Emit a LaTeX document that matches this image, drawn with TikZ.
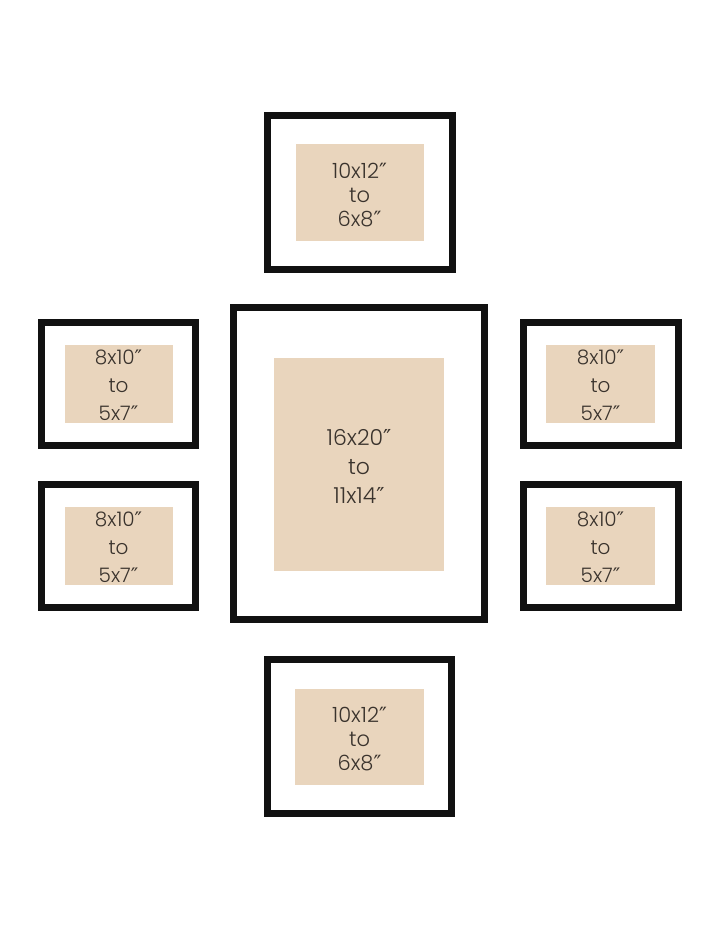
\documentclass[tikz,border=0pt]{standalone}
\usepackage{fontspec}
\setmainfont{Poppins}[UprightFont=* Light]
\newfontfamily\primefont{DejaVu Sans}
\newcommand{\dq}{{\primefont\char"2033}}
\definecolor{framecol}{HTML}{111111}
\definecolor{matcol}{HTML}{E9D5BD}
\definecolor{txtcol}{HTML}{3A332D}
\tikzset{
  frame/.style={draw=framecol, line width=7pt, fill=white, inner sep=0pt},
  mat/.style={fill=matcol, inner sep=0pt},
  lbl/.style={text=txtcol, align=center, inner sep=0pt},
  smalltxt/.style={lbl, font=\fontsize{20}{28}\selectfont},
  midtxt/.style={lbl, font=\fontsize{21}{24}\selectfont},
  bigtxt/.style={lbl, font=\fontsize{22}{29}\selectfont},
}
\begin{document}
\begin{tikzpicture}[x=1pt,y=-1pt]
\useasboundingbox[fill=white] (0,0) rectangle (720,928);
% top frame
\node[frame, minimum width=185pt, minimum height=153pt] (ftop) at (359.5,192.5) {};
\node[mat, minimum width=128pt, minimum height=96pt] (mtop) at (359.5,192.5) {};
\node[midtxt] (ttop) at (359.5,195) {10x12\dq\\to\\6x8\dq};
% center frame
\node[frame, minimum width=251pt, minimum height=312pt] (fcen) at (359,463.5) {};
\node[mat, minimum width=170pt, minimum height=213pt] (mcen) at (359,464.5) {};
\node[bigtxt] (tcen) at (359,466) {16x20\dq\\to\\11x14\dq};
% top-left frame
\node[frame, minimum width=154.5pt, minimum height=123pt] (ftl) at (118.25,383.5) {};
\node[mat, minimum width=108pt, minimum height=78pt] (mtl) at (118.5,383.5) {};
\node[smalltxt] (ttl) at (118.5,385.5) {8x10\dq\\to\\5x7\dq};
% bottom-left frame
\node[frame, minimum width=154.5pt, minimum height=123pt] (fbl) at (118.25,545.5) {};
\node[mat, minimum width=108pt, minimum height=78pt] (mbl) at (118.5,545.5) {};
\node[smalltxt] (tbl) at (118.5,547.5) {8x10\dq\\to\\5x7\dq};
% top-right frame
\node[frame, minimum width=155pt, minimum height=123pt] (ftr) at (600.5,383.5) {};
\node[mat, minimum width=109pt, minimum height=78pt] (mtr) at (600.5,383.5) {};
\node[smalltxt] (ttr) at (600.5,385.5) {8x10\dq\\to\\5x7\dq};
% bottom-right frame
\node[frame, minimum width=155pt, minimum height=123pt] (fbr) at (600.5,545.5) {};
\node[mat, minimum width=109pt, minimum height=78pt] (mbr) at (600.5,545.5) {};
\node[smalltxt] (tbr) at (600.5,547.5) {8x10\dq\\to\\5x7\dq};
% bottom frame
\node[frame, minimum width=184.5pt, minimum height=153.5pt] (fbot) at (359.25,736.25) {};
\node[mat, minimum width=129pt, minimum height=96pt] (mbot) at (359.5,736.5) {};
\node[midtxt] (tbot) at (359.5,739) {10x12\dq\\to\\6x8\dq};
\end{tikzpicture}
\end{document}
